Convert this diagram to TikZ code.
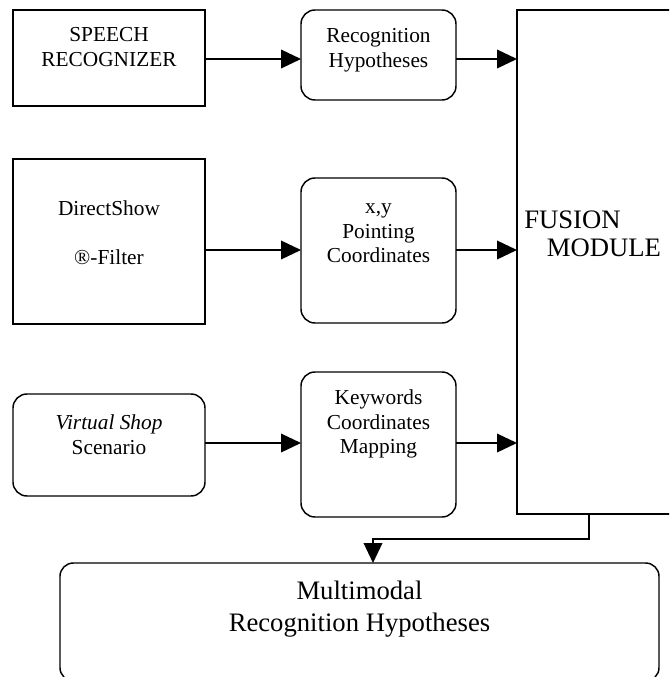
\documentclass[tikz,border=0pt]{standalone}
\usepackage{fontspec}
\setmainfont{Liberation Serif}
\usetikzlibrary{arrows.meta}
\tikzset{
  box/.style={draw, line width=1.1pt, fill=white, inner sep=0pt, outer sep=0pt},
  rbox/.style={box, rounded corners=10.5pt},
  sz/.style 2 args={minimum width=#1*0.75pt, minimum height=#2*0.75pt},
  lbl/.style={align=center, inner sep=0pt, font=\fontsize{16}{18.4}\selectfont},
  big/.style={inner sep=0pt, font=\fontsize{20}{21}\selectfont},
  arr/.style={line width=1.1pt, -{Triangle[length=15pt, width=14pt]}}
}
\begin{document}
\begin{tikzpicture}[x=0.75pt, y=-0.75pt]
\useasboundingbox (0,0) rectangle (669,677);
\clip (0,0) rectangle (669,677);
% boxes
\node[box, sz={192}{96}] (sr) at (109,58) {};
\node[rbox, sz={155}{90}] (rh) at (378.5,55) {};
\node[box, sz={192}{165}] (ds) at (109,241.5) {};
\node[rbox, sz={155}{145}] (pc) at (378.5,250.5) {};
\node[rbox, sz={192}{102}] (vs) at (109,445) {};
\node[rbox, sz={155}{145}] (kc) at (378.5,444.5) {};
\node[box, sz={183}{504}] (fm) at (608.5,262) {};
\node[box, rounded corners=10pt, sz={599}{118}] (mm) at (359.5,622) {};
% texts
\node[lbl] (tsr) at (109,47) {SPEECH\\RECOGNIZER};
\node[lbl] (trh) at (378.5,50) {Recognition\\Hypotheses};
\node[lbl] (tds) at (109,232.5) {DirectShow\\[18.4pt]®-Filter};
\node[lbl] (tpc) at (378.5,233.5) {x,y\\Pointing\\Coordinates};
\node[lbl] (tvs) at (109,434.5) {\textit{Virtual Shop}\\Scenario};
\node[lbl] (tkc) at (378.5,424) {Keywords\\Coordinates\\Mapping};
\node[big, align=left, anchor=west] (tfm) at (524,234) {FUSION\\\hspace*{17pt}MODULE};
\node[big, align=center, font=\fontsize{20}{24}\selectfont] (tmm) at (359.5,609) {Multimodal\\Recognition Hypotheses};
% connectors
\draw[arr] (sr.east |- 0,59) -- (rh.west |- 0,59);
\draw[arr] (rh.east |- 0,59) -- (fm.west |- 0,59);
\draw[arr] (ds.east |- 0,250) -- (pc.west |- 0,250);
\draw[arr] (pc.east |- 0,250) -- (fm.west |- 0,250);
\draw[arr] (vs.east |- 0,443) -- (kc.west |- 0,443);
\draw[arr] (kc.east |- 0,443) -- (fm.west |- 0,443);
\draw[arr] (fm.south -| 589,0) |- (373,539) -- (mm.north -| 373,0);
\end{tikzpicture}
\end{document}
